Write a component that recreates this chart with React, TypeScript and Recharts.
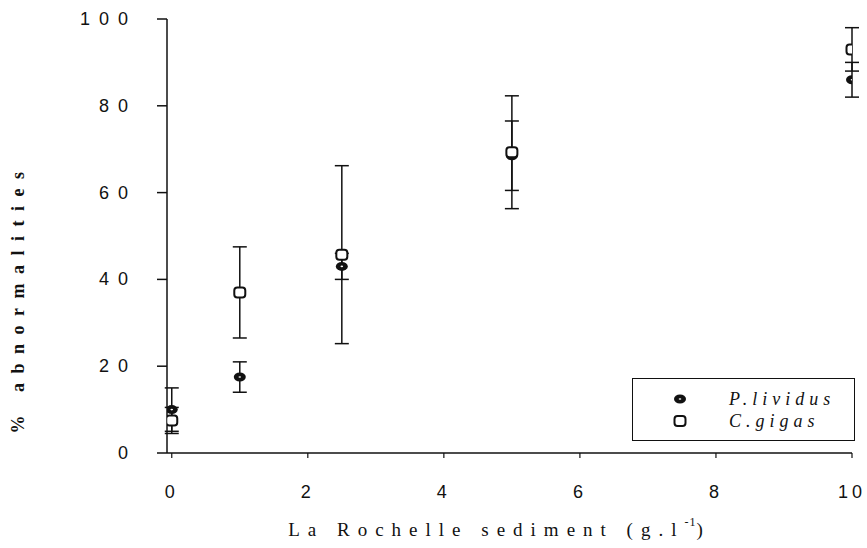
import React from 'react';
import { ScatterChart, Scatter, XAxis, YAxis, ErrorBar, Label } from 'recharts';

// Sediment concentration (g/l) at which embryos were exposed
const doses = [0, 1, 2.5, 5, 10];
// % abnormal larvae, mean and half-range of the error bars
const lividusMean = [10, 17.5, 43, 68.5, 86];
const lividusErr = [5, 3.5, 3, 8, 4];
const gigasMean = [7.5, 37, 45.7, 69.3, 93];
const gigasErr = [3, 10.5, 20.5, 13, 5];

const xTicks = [0, 2, 4, 6, 8, 10];
const yTicks = [0, 20, 40, 60, 80, 100];
const seriesNames = ['P.lividus', 'C.gigas'];

const lividusData = doses.map((d, i) => ({ x: d, y: lividusMean[i], err: lividusErr[i] }));
const gigasData = doses.map((d, i) => ({ x: d, y: gigasMean[i], err: gigasErr[i] }));

const W = 867;
const H = 548;
const margin = { top: 19, right: 15, bottom: 10, left: 20 };
const Y_AXIS_W = 147;
const X_AXIS_H = 85;

const SANS = '"Liberation Sans", Arial, sans-serif';
const SERIF = '"Liberation Serif", "Times New Roman", serif';
const INK = '#111';

const YTick = (props: any) => {
  const { x, y, payload } = props;
  return (
    <text x={x} y={y} textAnchor="end" dominantBaseline="central" fontFamily={SANS}
      fontSize={18} letterSpacing={9} fill={INK}>
      {payload.value}
    </text>
  );
};

const XTick = (props: any) => {
  const { x, y, payload } = props;
  return (
    <text x={x} y={y + 34} textAnchor="middle" dominantBaseline="central" fontFamily={SANS}
      fontSize={18} letterSpacing={4} fill={INK}>
      {payload.value}
    </text>
  );
};

const LividusDot = (props: any) => {
  const { cx, cy } = props;
  if (cx == null || cy == null) return null;
  return (
    <g>
      <ellipse cx={cx} cy={cy} rx={6} ry={4.5} fill={INK} />
      <ellipse cx={cx} cy={cy} rx={1.3} ry={0.8} fill="#fff" />
    </g>
  );
};

const GigasDot = (props: any) => {
  const { cx, cy } = props;
  if (cx == null || cy == null) return null;
  return <rect x={cx - 5.5} y={cy - 5} width={11} height={10} rx={3} fill="#fff" stroke={INK} strokeWidth={2} />;
};

const XTitle = (props: any) => {
  const vb = props.viewBox || {};
  const cx = vb.x + vb.width / 2 - 10;
  return (
    <text x={cx} y={vb.y + 76} textAnchor="middle" dominantBaseline="central" fontFamily={SERIF}
      fontSize={19} letterSpacing={8} fill={INK}>
      La Rochelle sediment (g.l
      <tspan dy={-7} fontSize={12} letterSpacing={1}>-1</tspan>
      <tspan dy={7}>)</tspan>
    </text>
  );
};

const YTitle = (props: any) => {
  const vb = props.viewBox || {};
  const cx = 18;
  const cy = vb.y + vb.height / 2 + 62;
  return (
    <text x={cx} y={cy} transform={`rotate(-90 ${cx} ${cy})`} textAnchor="middle" dominantBaseline="central"
      fontFamily={SERIF} fontSize={18} fontWeight="bold" letterSpacing={9.5} fill={INK}>
      % abnormalities
    </text>
  );
};

const LegendBox = () => (
  <div style={{
    position: 'absolute', left: 632, top: 378, width: 223, height: 63,
    border: '1.5px solid #111', boxSizing: 'border-box', background: '#fff',
  }}>
    <svg width={220} height={60} style={{ position: 'absolute', left: 0, top: 0 }}>
      {seriesNames.map((name, i) => {
        const cy = 20 + i * 22;
        return (
          <g key={name}>
            {i === 0 ? <LividusDot cx={47} cy={cy} /> : <GigasDot cx={47} cy={cy} />}
            <text x={96} y={cy} dominantBaseline="central" fontFamily={SERIF} fontStyle="italic"
              fontSize={18} letterSpacing={5} fill={INK}>{name}</text>
          </g>
        );
      })}
    </svg>
  </div>
);

export default function App() {
  return (
    <div style={{ position: 'absolute', left: 0, top: 0, width: W, height: H, background: '#fff' }}>
      <ScatterChart width={W} height={H} margin={margin}>
        <XAxis type="number" dataKey="x" domain={[-0.07, 10]} ticks={xTicks} allowDataOverflow
          height={X_AXIS_H} tickSize={5} tickMargin={0} tick={<XTick />}
          axisLine={{ stroke: INK, strokeWidth: 1.5 }} tickLine={{ stroke: INK, strokeWidth: 1.2 }}>
          <Label content={<XTitle />} position="bottom" />
        </XAxis>
        <YAxis type="number" dataKey="y" domain={[0, 100]} ticks={yTicks} width={Y_AXIS_W}
          tickSize={10} tickMargin={20} tick={<YTick />}
          axisLine={{ stroke: INK, strokeWidth: 1.5 }} tickLine={{ stroke: INK, strokeWidth: 1.5 }}>
          <Label content={<YTitle />} position="left" />
        </YAxis>
        <Scatter name={seriesNames[0]} data={lividusData} isAnimationActive={false} shape={<LividusDot />}>
          <ErrorBar dataKey="err" direction="y" width={7} stroke={INK} strokeWidth={1.5} />
        </Scatter>
        <Scatter name={seriesNames[1]} data={gigasData} isAnimationActive={false} shape={<GigasDot />}>
          <ErrorBar dataKey="err" direction="y" width={7} stroke={INK} strokeWidth={1.5} />
        </Scatter>
      </ScatterChart>
      <LegendBox />
    </div>
  );
}
